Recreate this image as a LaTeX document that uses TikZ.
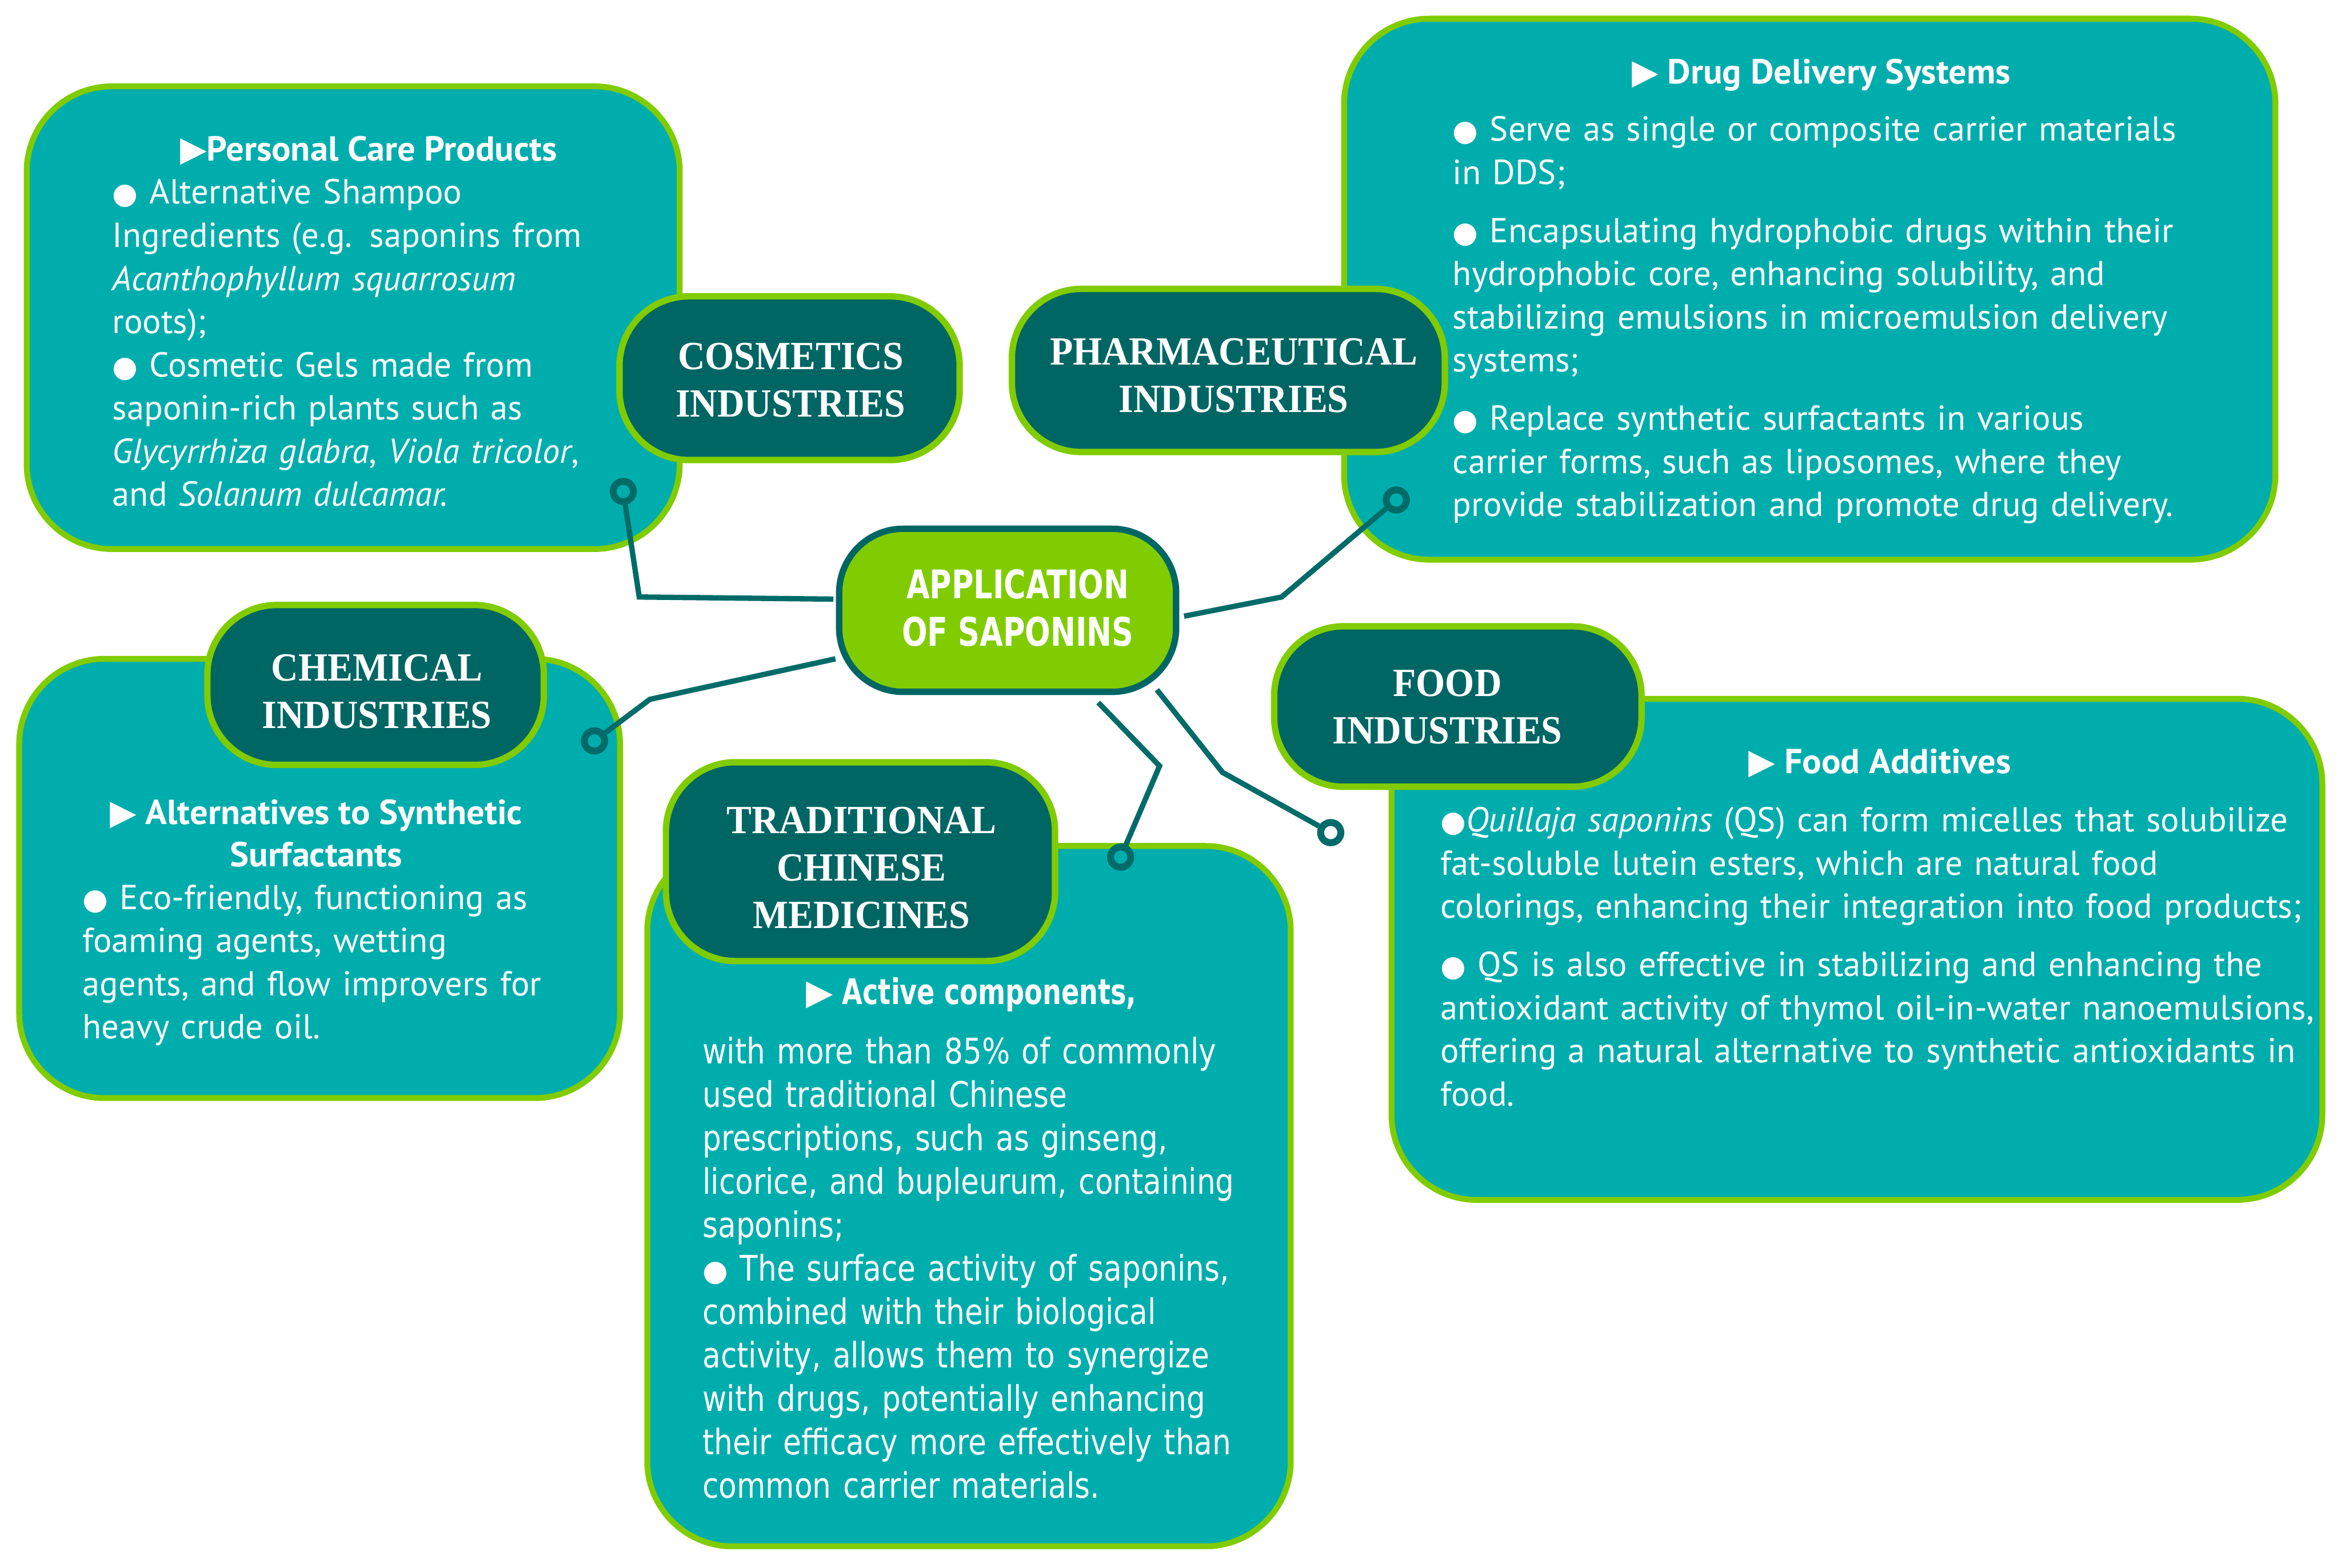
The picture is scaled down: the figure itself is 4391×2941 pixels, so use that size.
\documentclass[tikz,border=0pt]{standalone}
\usepackage{fontspec}
\usetikzlibrary{fit}
\newfontfamily\dinf{PT Sans}
\newfontfamily\dinb[FakeStretch=1.03]{PT Sans}
\newfontfamily\tcmf[FakeStretch=0.84]{DejaVu Sans}
\newfontfamily\tcmhf[FakeStretch=0.75]{DejaVu Sans}
\newfontfamily\cenf[FakeStretch=0.76]{DejaVu Sans}
\newfontfamily\labf[FakeStretch=0.94]{Liberation Serif}
\newfontfamily\symf{DejaVu Sans}
\newcommand{\tri}{{\symf ▶}}
\newcommand{\blt}{{\symf\fontsize{11}{11}\selectfont ●}}
\definecolor{teal1}{HTML}{00ADAD}
\definecolor{dteal}{HTML}{006664}
\definecolor{lime1}{HTML}{80CC00}
\definecolor{conn}{HTML}{006B68}
\begin{document}
\begin{tikzpicture}[x=0.2pt,y=-0.2pt,
  tbox/.style={draw=lime1, fill=teal1, line width=2.2pt, rounded corners=32pt, inner sep=0pt},
  lbox/.style={draw=lime1, fill=dteal, line width=2.4pt, rounded corners=26pt, inner sep=0pt},
  cbox/.style={draw=dteal, fill=lime1, line width=2.4pt, rounded corners=24pt, inner sep=0pt},
  body/.style={text=white, inner sep=0pt, anchor=north west, align=left, text width=420pt, font=\dinf\fontsize{13}{16.2}\selectfont},
  tcmbody/.style={body, font=\tcmf\fontsize{13.2}{16.3}\selectfont},
  head/.style={text=white, inner sep=0pt, anchor=base west, font=\dinb\bfseries\fontsize{13}{16.2}\selectfont},
  chead/.style={text=white, inner sep=0pt, anchor=north, align=center, font=\dinb\bfseries\fontsize{13}{16.0}\selectfont},
  ltext/.style={text=white, inner sep=0pt, anchor=north, align=center, font=\labf\bfseries\fontsize{15}{17.8}\selectfont},
  ctext/.style={text=white, inner sep=0pt, anchor=north, align=center, font=\cenf\bfseries\fontsize{14.8}{17.8}\selectfont},
  link/.style={draw=conn, line width=2pt},
  ring/.style={circle, draw=conn, line width=2.6pt, minimum size=7.6pt, inner sep=0pt}]

\fill[white] (0,0) rectangle (4391,2941);
\path[use as bounding box] (0,0) rectangle (4391,2941);

% text boxes
\node[tbox, fit={(50,162)(1275,1030)}] (cosbox) {};
\node[tbox, fit={(2521,35)(4268,1050)}] (pharmbox) {};
\node[tbox, fit={(36,1236)(1163,2060)}] (chembox) {};
\node[tbox, fit={(1214,1587)(2421,2901)}] (tcmbox) {};
\node[tbox, fit={(2610,1311)(4356,2251)}] (foodbox) {};

% label boxes
\node[lbox, fit={(1162,556)(1800,863)}] (cosl) {};
\node[lbox, fit={(1898,542)(2710,848)}] (pharml) {};
\node[lbox, fit={(389,1135)(1020,1435)}] (cheml) {};
\node[lbox, fit={(1249,1430)(1979,1803)}] (tcml) {};
\node[lbox, fit={(2390,1175)(3079,1476)}] (foodl) {};

% label texts
\node[ltext] (cost) at (1483,630) {\strut COSMETICS\\INDUSTRIES};
\node[ltext] (pharmt) at (2314,621) {\strut PHARMACEUTICAL\\INDUSTRIES};
\node[ltext] (chemt) at (707,1214) {\strut CHEMICAL\\INDUSTRIES};
\node[ltext] (tcmt) at (1616,1500) {\strut TRADITIONAL\\CHINESE\\MEDICINES};
\node[ltext] (foodt) at (2715,1243) {\strut FOOD\\INDUSTRIES};

% connectors
\node[ring] (cosr) at (1169,922) {};
\node[ring] (pharmr) at (2619,938) {};
\node[ring] (foodr) at (2496,1562) {};
\node[ring] (tcmr) at (2102,1608) {};
\node[ring] (chemr) at (1115,1390) {};
\coordinate (cose) at (1563,1124);
\coordinate (pharms) at (2221,1156);
\coordinate (foods) at (2170,1294);
\coordinate (tcms) at (2060,1318);
\coordinate (chems) at (1567,1236);
\draw[link] (cosr) -- (1199,1120) -- (cose);
\draw[link] (pharms) -- (2404,1120) -- (pharmr);
\draw[link] (foods) -- (2293,1449) -- (foodr);
\draw[link] (tcms) -- (2175,1437) -- (tcmr);
\draw[link] (chems) -- (1219,1312) -- (chemr);

% center
\node[cbox, fit={(1574,992)(2206,1298)}] (center) {};
\node[ctext] (centert) at (1909,1060) {\strut APPLICATION\\OF SAPONINS};

% cosmetics text
\node[head] (cosh) at (337,302) {\tri\textbf{Personal Care Products}};
\node[body] (cosb) at (210,325) {\strut\blt{} Alternative Shampoo\\
Ingredients (e.g. saponins from\\
\textit{Acanthophyllum squarrosum}\\
roots);\\
\blt{} Cosmetic Gels made from\\
saponin-rich plants such as\\
\textit{Glycyrrhiza glabra}, \textit{Viola tricolor},\\
and \textit{Solanum dulcamar.}};

% pharmaceutical text
\node[head] (pharmh) at (3060,157) {\tri\ \textbf{Drug Delivery Systems}};
\node[body] (pharmb) at (2724,207) {\strut\blt{} Serve as single or composite carrier materials\\
in DDS;\\[5.6pt]
\blt{} Encapsulating hydrophobic drugs within their\\
hydrophobic core, enhancing solubility, and\\
stabilizing emulsions in microemulsion delivery\\
systems;\\[5.6pt]
\blt{} Replace synthetic surfactants in various\\
carrier forms, such as liposomes, where they\\
provide stabilization and promote drug delivery.};

% food text
\node[head] (foodh) at (3279,1451) {\tri\ \textbf{Food Additives}};
\node[body] (foodb) at (2701,1503) {\strut\blt\textit{Quillaja saponins} (QS) can form micelles that solubilize\\
fat-soluble lutein esters, which are natural food\\
colorings, enhancing their integration into food products;\\[5.6pt]
\blt{} QS is also effective in stabilizing and enhancing the\\
antioxidant activity of thymol oil-in-water nanoemulsions,\\
offering a natural alternative to synthetic antioxidants in\\
food.};

% chemical text
\node[chead] (chemh) at (593,1489) {\strut\tri\ Alternatives to Synthetic\\Surfactants};
\node[body] (chemb) at (154,1648) {\strut\blt{} Eco-friendly, functioning as\\
foaming agents, wetting\\
agents, and flow improvers for\\
heavy crude oil.};

% TCM text
\node[head, font=\tcmhf\bfseries\fontsize{13.2}{16.3}\selectfont] (tcmh) at (1511,1884) {\tri\ Active components,};
\node[tcmbody] (tcmb) at (1317,1937) {\strut with more than 85\% of commonly\\
used traditional Chinese\\
prescriptions, such as ginseng,\\
licorice, and bupleurum, containing\\
saponins;\\
\blt{} The surface activity of saponins,\\
combined with their biological\\
activity, allows them to synergize\\
with drugs, potentially enhancing\\
their efficacy more effectively than\\
common carrier materials.};
\end{tikzpicture}
\end{document}
